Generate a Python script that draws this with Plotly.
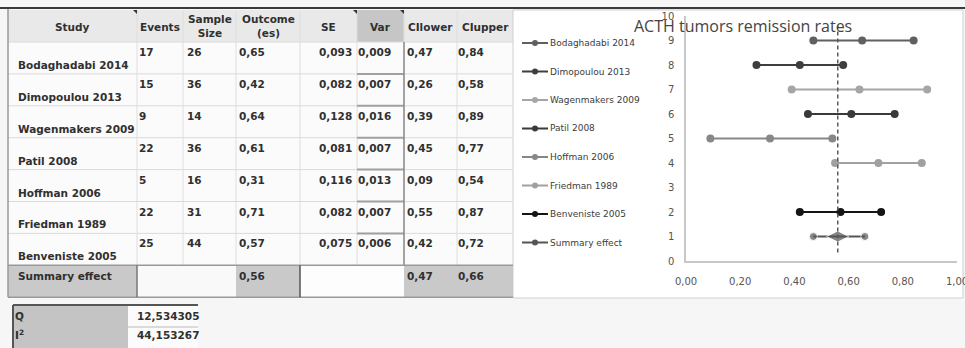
import plotly.graph_objects as go

# ---------------- data ----------------
studies = ["Bodaghadabi 2014", "Dimopoulou 2013", "Wagenmakers 2009", "Patil 2008",
           "Hoffman 2006", "Friedman 1989", "Benveniste 2005"]
events = [17, 15, 9, 22, 5, 22, 25]
sample_size = [26, 36, 14, 36, 16, 31, 44]
outcome = [0.65, 0.42, 0.64, 0.61, 0.31, 0.71, 0.57]
se = [0.093, 0.082, 0.128, 0.081, 0.116, 0.082, 0.075]
var = [0.009, 0.007, 0.016, 0.007, 0.013, 0.007, 0.006]
ci_lower = [0.47, 0.26, 0.39, 0.45, 0.09, 0.55, 0.42]
ci_upper = [0.84, 0.58, 0.89, 0.77, 0.54, 0.87, 0.72]
plot_rows = [9, 8, 7, 6, 5, 4, 2]

summary_label = "Summary effect"
summary_es = 0.56
summary_lower = 0.47
summary_upper = 0.66
summary_row = 1

q_value = "12,534305"
i2_value = "44,153267"

headers = ["Study", "Events", "Sample<br>Size", "Outcome<br>(es)", "SE", "Var", "CIlower", "CIupper"]
chart_title = "ACTH tumors remission rates"
x_ticks = [0, 0.2, 0.4, 0.6, 0.8, 1.0]
y_ticks = list(range(0, 11))

series_colors = ["#606060", "#3e3e3e", "#a6a6a6", "#3a3a3a", "#878787", "#a0a0a0", "#151515"]
summary_color = "#555555"

W, H = 965, 348
FONT = "DejaVu Sans"


def fmt(v, d=2):
    return f"{v:.{d}f}".replace(".", ",")


def px(x):
    return x / W


def py(y):
    return 1 - y / H


fig = go.Figure()

# ---------------- forest plot ----------------
for i, s in enumerate(studies):
    fig.add_trace(go.Scatter(
        x=[ci_lower[i], outcome[i], ci_upper[i]], y=[plot_rows[i]] * 3,
        mode="lines+markers", name=s,
        line=dict(color=series_colors[i], width=2),
        marker=dict(color=series_colors[i], size=8, symbol="circle"),
        showlegend=False, xaxis="x", yaxis="y"))

fig.add_trace(go.Scatter(
    x=[summary_lower, summary_es, summary_upper], y=[summary_row] * 3,
    mode="lines+markers", name=summary_label,
    line=dict(color=summary_color, width=2),
    marker=dict(color=summary_color, size=[8, 16, 8],
                symbol=["circle", "diamond-wide", "circle"]),
    showlegend=False, xaxis="x", yaxis="y"))

fig.add_trace(go.Scatter(
    x=[summary_es, summary_es], y=[0.35, 9.6], mode="lines",
    line=dict(color="#5a5a5a", width=1.5, dash="4px,3px"),
    showlegend=False, hoverinfo="skip", xaxis="x", yaxis="y"))

# ---------------- manual legend (pixel overlay axis) ----------------
legend_names = studies + [summary_label]
legend_colors = series_colors + [summary_color]
annotations = []
for k, (nm, col) in enumerate(zip(legend_names, legend_colors)):
    yy = 43 + k * 28.5
    fig.add_trace(go.Scatter(
        x=[522, 548], y=[yy] * 2, mode="lines",
        line=dict(color=col, width=2),
        showlegend=False, hoverinfo="skip", xaxis="x2", yaxis="y2"))
    fig.add_trace(go.Scatter(
        x=[535], y=[yy], mode="markers", marker=dict(color=col, size=6),
        showlegend=False, hoverinfo="skip", xaxis="x2", yaxis="y2"))
    annotations.append(dict(x=px(548), y=py(yy), xref="paper", yref="paper", text=nm,
                            showarrow=False, xanchor="left", yanchor="middle",
                            font=dict(family=FONT, size=9, color="#3c3c3c")))

annotations.append(dict(x=px(743), y=py(26), xref="paper", yref="paper", text=chart_title,
                        showarrow=False, xanchor="center", yanchor="middle",
                        font=dict(family="Open Sans", size=16, color="#444444")))

# ---------------- table ----------------
shapes = []


def rect(x0, y0, x1, y1, fill, line_color=None, lw=0):
    shapes.append(dict(type="rect", xref="paper", yref="paper",
                       x0=px(x0), y0=py(y0), x1=px(x1), y1=py(y1),
                       fillcolor=fill, line=dict(color=line_color or fill, width=lw),
                       layer="below"))


def seg(x0, y0, x1, y1, color, lw=1):
    shapes.append(dict(type="line", xref="paper", yref="paper",
                       x0=px(x0), y0=py(y0), x1=px(x1), y1=py(y1),
                       line=dict(color=color, width=lw), layer="below"))


col_edges = [8, 137, 183, 236, 300, 357, 404, 457, 513]
row_h = 31.9
hdr_top, hdr_bot = 10, 42
row_tops = [hdr_bot + r * row_h for r in range(len(studies))]
sum_top = hdr_bot + len(studies) * row_h
sum_bot = sum_top + 32

# backgrounds
rect(8, hdr_bot, 513, sum_top, "#fbfbfb")
rect(8, hdr_top, 513, hdr_bot, "#e9e9e9")
rect(357, hdr_top, 404, hdr_bot, "#c6c6c6")
# chart panel
rect(513, 10, 963, 298, "#ffffff", "#cfcfcf", 1)

# summary row
rect(8, sum_top, 137, sum_bot, "#c9c9c9")
rect(137, sum_top, 236, sum_bot, "#f9f9f9")
rect(236, sum_top, 300, sum_bot, "#c9c9c9")
rect(300, sum_top, 404, sum_bot, "#fdfdfd")
rect(404, sum_top, 513, sum_bot, "#c9c9c9")

# grid lines
for y in [hdr_bot] + row_tops[1:]:
    seg(8, y, 513, y, "#dadada", 1)
for x in col_edges[1:-1]:
    seg(x, hdr_top, x, sum_top, "#dedede", 1)
for y in row_tops[1:]:
    seg(357, y, 404, y, "#a0a0a0", 2)
seg(404, hdr_bot, 404, sum_top, "#8a8a8a", 1.5)
seg(8, sum_top, 513, sum_top, "#999999", 1.5)
seg(8, sum_bot, 513, sum_bot, "#9a9a9a", 1.5)
seg(137, sum_top, 137, sum_bot, "#777777", 1.5)
seg(300, sum_top, 300, sum_bot, "#555555", 1.5)
seg(8, 8, 8, sum_bot, "#999999", 1.5)
seg(0, 8, W, 8, "#3a3a3a", 2)

# comment markers
for cx in [137, 357, 404]:
    shapes.append(dict(type="path", xref="paper", yref="paper",
                       path=f"M {px(cx-4)},{py(hdr_top)} L {px(cx)},{py(hdr_top)} L {px(cx)},{py(hdr_top+4)} Z",
                       fillcolor="#333333", line=dict(width=0), layer="below"))

txt_font = dict(family=FONT, size=10.5, color="#303030", weight="bold")


def text(x, y, t, anchor="left"):
    annotations.append(dict(x=px(x), y=py(y), xref="paper", yref="paper", text=t,
                            showarrow=False, xanchor=anchor, yanchor="middle", font=txt_font))


# header
for j, h in enumerate(headers):
    cx = (col_edges[j] + col_edges[j + 1]) / 2
    yy = 27 if "<br>" not in h else 26
    text(cx, yy, h, "center")

# body
for r in range(len(studies)):
    top = row_tops[r]
    text(16, top + 23, studies[r])
    text(137, top + 10, str(events[r]))
    text(185, top + 10, str(sample_size[r]))
    text(237, top + 10, fmt(outcome[r]))
    text(354, top + 10, fmt(se[r], 3), "right")
    text(356, top + 10, fmt(var[r], 3))
    text(405, top + 10, fmt(ci_lower[r]))
    text(456, top + 10, fmt(ci_upper[r]))

text(16, sum_top + 11, summary_label)
text(237, sum_top + 11, fmt(summary_es))
text(405, sum_top + 11, fmt(summary_lower))
text(456, sum_top + 11, fmt(summary_upper))

# Q / I2 box
rect(13, 305, 198, 348, "#fbfbfb")
rect(13, 305, 128, 348, "#c4c4c4")
seg(128, 327, 198, 327, "#bbbbbb", 1)
seg(13, 305, 198, 305, "#555555", 2)
seg(13, 305, 13, 348, "#555555", 2)
text(13, 316, "Q")
text(13, 334, "I<sup>2</sup>")
text(135, 316, q_value)
text(135, 335, i2_value)

fig.update_layout(
    template="none",
    width=W, height=H, margin=dict(l=0, r=0, t=0, b=0, autoexpand=False),
    paper_bgcolor="#f6f6f6", plot_bgcolor="rgba(0,0,0,0)",
    separators=",.",
    showlegend=False,
    shapes=shapes, annotations=annotations,
    xaxis=dict(domain=[686 / W, 957 / W], range=[0, 1], tickvals=x_ticks, tickformat=".2f",
               showgrid=False, zeroline=False, showline=True, linecolor="#c8c8c8", linewidth=1.5,
               ticks="", ticklabelstandoff=10, automargin=False, ticklabeloverflow="allow",
               tickfont=dict(family=FONT, size=10, color="#555555"), anchor="y"),
    yaxis=dict(domain=[(H - 261) / H, (H - 16) / H], range=[0, 10], tickvals=y_ticks,
               showgrid=False, zeroline=False, showline=True, linecolor="#c8c8c8", linewidth=1.5,
               ticks="", ticklabelstandoff=8, automargin=False, ticklabeloverflow="allow",
               tickfont=dict(family=FONT, size=10, color="#555555"), anchor="x"),
    xaxis2=dict(domain=[0, 1], range=[0, W], visible=False, anchor="y2", automargin=False),
    yaxis2=dict(domain=[0, 1], range=[H, 0], visible=False, anchor="x2", automargin=False),
)

fig.write_html("out.html", config={"displayModeBar": False},
               post_script="document.body.style.margin='0px';document.body.style.overflow='hidden';")
